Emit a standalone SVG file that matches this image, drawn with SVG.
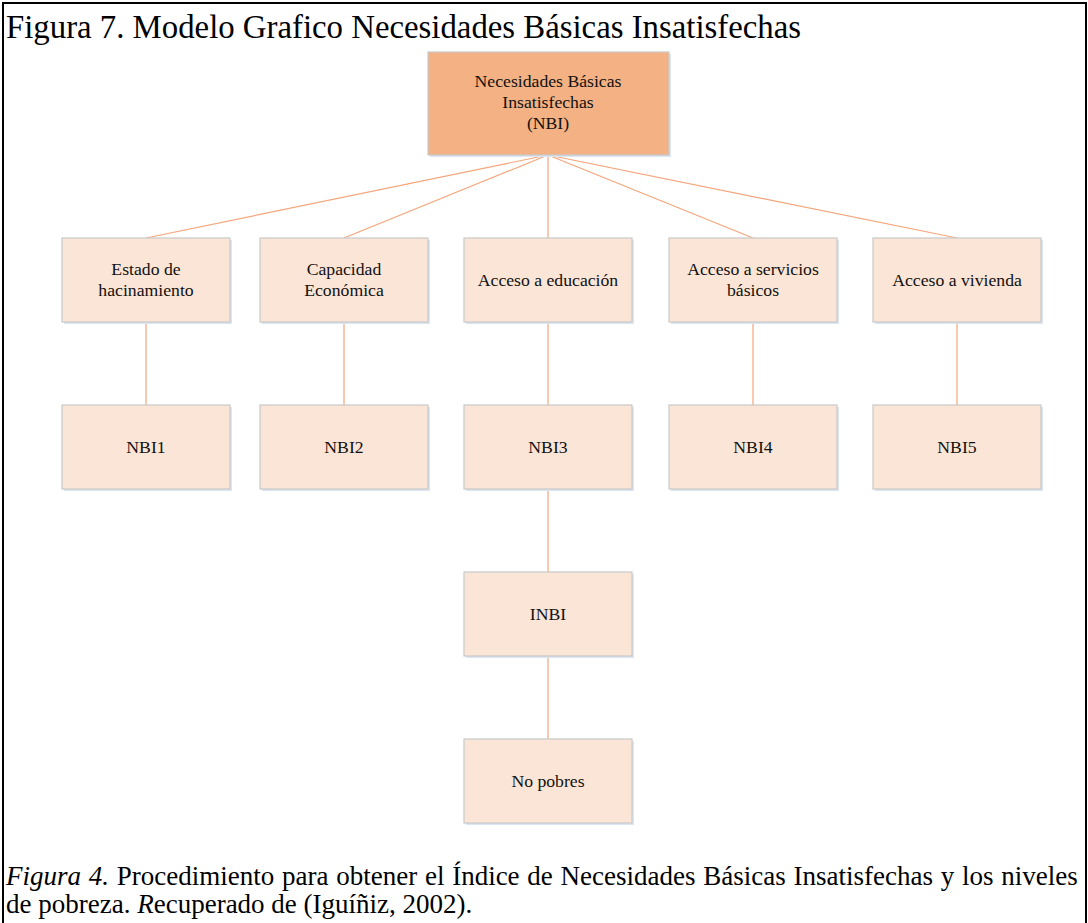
<svg xmlns="http://www.w3.org/2000/svg" width="1088" height="923" viewBox="0 0 1088 923">
<style>
.t{font-family:"Liberation Serif","Times New Roman",serif;fill:#000}
.n{font-family:"Liberation Serif","Times New Roman",serif;font-size:17.7px;fill:#111;text-anchor:middle}
.b{fill:#FBE5D6;stroke:#C9C9C9;stroke-width:1.2}
.top{fill:#F4B183;stroke:#C9C9C9;stroke-width:1.2}
.sh{fill:#DCE6F2}
.c{stroke:#F4A57A;stroke-width:1.2;fill:none}
</style>
<rect x="0" y="0" width="1088" height="923" fill="#fff"/>
<path d="M3,923 V3 H1086 V923" fill="none" stroke="#000" stroke-width="2"/>
<text class="t" x="6" y="38" font-size="32.8">Figura 7. Modelo Grafico Necesidades Básicas Insatisfechas</text>
<g id="connectors">
<line class="c" x1="548" y1="155" x2="146" y2="238"/>
<line class="c" x1="548" y1="155" x2="344" y2="238"/>
<line class="c" x1="548" y1="155" x2="548" y2="238"/>
<line class="c" x1="548" y1="155" x2="753" y2="238"/>
<line class="c" x1="548" y1="155" x2="957" y2="238"/>
<line class="c" x1="146" y1="322" x2="146" y2="405"/>
<line class="c" x1="344" y1="322" x2="344" y2="405"/>
<line class="c" x1="548" y1="322" x2="548" y2="405"/>
<line class="c" x1="753" y1="322" x2="753" y2="405"/>
<line class="c" x1="957" y1="322" x2="957" y2="405"/>
<line class="c" x1="548" y1="489" x2="548" y2="572"/>
<line class="c" x1="548" y1="656" x2="548" y2="739"/>
</g>
<g id="nbi-top"><rect class="sh" x="430" y="54" width="241" height="103"/><rect class="top" x="428" y="52" width="241" height="103"/>
<text class="n" x="548" y="87">Necesidades Básicas</text><text class="n" x="548" y="108">Insatisfechas</text><text class="n" x="548" y="129">(NBI)</text></g>
<g id="hacinamiento"><rect class="sh" x="64" y="240" width="168" height="84"/><rect class="b" x="62" y="238" width="168" height="84"/>
<text class="n" x="146" y="275">Estado de</text><text class="n" x="146" y="296">hacinamiento</text></g>
<g id="capacidad"><rect class="sh" x="262" y="240" width="168" height="84"/><rect class="b" x="260" y="238" width="168" height="84"/>
<text class="n" x="344" y="275">Capacidad</text><text class="n" x="344" y="296">Económica</text></g>
<g id="educacion"><rect class="sh" x="466" y="240" width="168" height="84"/><rect class="b" x="464" y="238" width="168" height="84"/>
<text class="n" x="548" y="286">Acceso a educación</text></g>
<g id="servicios"><rect class="sh" x="671" y="240" width="168" height="84"/><rect class="b" x="669" y="238" width="168" height="84"/>
<text class="n" x="753" y="275">Acceso a servicios</text><text class="n" x="753" y="296">básicos</text></g>
<g id="vivienda"><rect class="sh" x="875" y="240" width="168" height="84"/><rect class="b" x="873" y="238" width="168" height="84"/>
<text class="n" x="957" y="286">Acceso a vivienda</text></g>
<g id="nbi1"><rect class="sh" x="64" y="407" width="168" height="84"/><rect class="b" x="62" y="405" width="168" height="84"/><text class="n" x="146" y="453">NBI1</text></g>
<g id="nbi2"><rect class="sh" x="262" y="407" width="168" height="84"/><rect class="b" x="260" y="405" width="168" height="84"/><text class="n" x="344" y="453">NBI2</text></g>
<g id="nbi3"><rect class="sh" x="466" y="407" width="168" height="84"/><rect class="b" x="464" y="405" width="168" height="84"/><text class="n" x="548" y="453">NBI3</text></g>
<g id="nbi4"><rect class="sh" x="671" y="407" width="168" height="84"/><rect class="b" x="669" y="405" width="168" height="84"/><text class="n" x="753" y="453">NBI4</text></g>
<g id="nbi5"><rect class="sh" x="875" y="407" width="168" height="84"/><rect class="b" x="873" y="405" width="168" height="84"/><text class="n" x="957" y="453">NBI5</text></g>
<g id="inbi"><rect class="sh" x="466" y="574" width="168" height="84"/><rect class="b" x="464" y="572" width="168" height="84"/><text class="n" x="548" y="620">INBI</text></g>
<g id="nopobres"><rect class="sh" x="466" y="741" width="168" height="84"/><rect class="b" x="464" y="739" width="168" height="84"/><text class="n" x="548" y="787">No pobres</text></g>
<text class="t" x="6" y="885" font-size="27" word-spacing="1"><tspan font-style="italic">Figura 4.</tspan> Procedimiento para obtener el Índice de Necesidades Básicas Insatisfechas y los niveles</text>
<text class="t" x="6" y="913" font-size="27">de pobreza. <tspan font-style="italic">R</tspan>ecuperado de (Iguíñiz, 2002).</text>
</svg>
